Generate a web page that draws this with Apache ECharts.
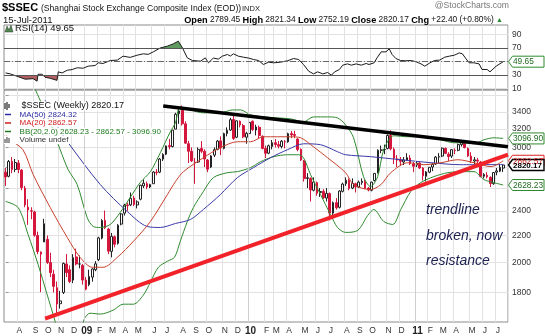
<!DOCTYPE html>
<html><head><meta charset="utf-8">
<script src="https://cdn.jsdelivr.net/npm/echarts@6/dist/echarts.min.js"></script>
<style>html,body{margin:0;padding:0;background:#fff;}#chart{width:545px;height:336px;}</style>
</head><body><div id="chart"></div>
<script>
// ---------- categories: weekly bars (Friday dates); holiday weeks have no bar ----------
const holidayWeeks = ['2008-10-03', '2009-01-30', '2010-02-19'];
const weeks = [];
for (let t = Date.UTC(2008, 6, 4); t <= Date.UTC(2011, 6, 15); t += 7 * 86400000) {
  const s = new Date(t).toISOString().slice(0, 10);
  if (!holidayWeeks.includes(s)) weeks.push(s);
}
const categories = weeks.concat(['']);

// ---------- weekly OHLC ----------
const opens = [2750,2710,2856,2776,2840,2770,2600,2430,2400,2390,2200,2060,2150,2170,2000,1920,1830,1730,1800,1990,1950,1880,2040,1990,1980,1880,
1850,1900,1950,2020,2180,2320,2250,2080,2190,2140,2290,2380,2450,2450,2510,2450,2500,2620,2640,2610,2640,2750,2750,2880,2930,3020,3010,3200,3380,3420,
3260,3040,2960,2850,2850,2990,2960,2870,2800,2920,2980,3070,2990,3150,3190,3310,3110,3290,3240,3110,3150,3290,3190,3220,3120,2990,2940,3010,3050,3030,
3010,3060,3060,3150,3140,3090,2980,2860,2690,2690,2580,2650,2560,2570,2510,2550,2380,2470,2430,2570,2640,2670,2600,2640,2610,2650,2660,2600,2580,2670,
2740,2970,2980,2990,3130,2980,2880,2870,2850,2870,2890,2830,2820,2840,2790,2710,2750,2800,2830,2900,2910,2990,2930,2910,2970,2970,3030,3050,2990,2910,
2860,2870,2850,2710,2720,2700,2640,2750,2760,2789.45];
const highs = [2790,2870,2900,2880,2870,2780,2620,2500,2430,2400,2230,2080,2333,2200,2070,1950,1870,1810,2000,2060,1980,2060,2100,2050,1990,1900,
1950,1960,2010,2190,2330,2402,2260,2220,2200,2290,2380,2460,2470,2560,2530,2490,2630,2680,2660,2640,2760,2780,2890,2940,3020,3090,3190,3390,3460,3478,
3290,3070,3000,2890,3000,3068,2980,2880,2920,3000,3080,3120,3160,3220,3330,3361,3300,3300,3260,3170,3280,3300,3250,3240,3130,3020,3030,3080,3090,3070,
3080,3080,3160,3180,3181,3100,2990,2870,2740,2700,2700,2660,2600,2590,2600,2560,2480,2510,2580,2650,2700,2690,2690,2650,2670,2690,2680,2610,2660,2740,
2980,3020,3030,3140,3187,3000,2920,2900,2900,2940,2920,2850,2860,2850,2800,2760,2800,2840,2910,2940,3000,3000,2950,2980,2990,3040,3060,3067,3000,2950,
2900,2890,2860,2740,2750,2710,2750,2790,2830,2821.34];
const lows = [2620,2700,2740,2750,2740,2580,2430,2284,2330,2190,2060,1802,2150,1990,1900,1800,1664,1700,1790,1900,1860,1860,1980,1960,1850,1814,
1840,1870,1940,2010,2170,2250,2060,2037,2110,2130,2280,2360,2400,2440,2440,2420,2490,2600,2590,2600,2640,2720,2740,2860,2920,2980,3000,3200,3260,3240,
3040,2840,2850,2639,2840,2940,2800,2750,2790,2900,2970,2920,2980,3120,3180,3080,3100,3220,3100,3040,3150,3180,3130,3100,2980,2890,2930,2980,3000,2990,
2990,2990,3050,3100,3100,2960,2860,2660,2600,2480,2570,2530,2520,2500,2480,2320,2360,2410,2420,2560,2620,2580,2590,2560,2600,2630,2590,2570,2570,2660,
2740,2940,2930,2980,2970,2830,2800,2810,2820,2860,2820,2750,2800,2780,2670,2661,2740,2760,2820,2840,2900,2930,2860,2890,2930,2960,3010,2990,2900,2840,
2830,2820,2700,2690,2690,2610,2630,2720,2750,2752.19];
const closes = [2704,2856,2776,2845,2776,2605,2450,2407,2397,2202,2079,2075,2293,2000,1930,1839,1728,1747,1994,1930,1871,2035,1990,1990,1880,1821,
1904,1955,1991,2181,2320,2261,2082,2193,2133,2281,2374,2449,2444,2508,2453,2477,2626,2645,2610,2632,2751,2745,2880,2927,3016,3008,3189,3372,3412,3260,
3046,2960,2861,2844,2980,2960,2880,2779,2911,2976,3068,2995,3150,3187,3308,3096,3295,3247,3114,3153,3277,3196,3224,3128,2989,2939,3018,3051,3031,3014,
3067,3059,3149,3135,3130,2979,2870,2688,2697,2583,2656,2553,2569,2514,2552,2382,2470,2425,2573,2637,2672,2597,2642,2611,2655,2663,2598,2582,2655,2738,
2971,2975,2978,3129,2985,2888,2871,2857,2871,2894,2835,2808,2839,2791,2715,2752,2798,2827,2900,2905,2992,2938,2906,2977,2967,3030,3050,2999,2911,2863,
2872,2859,2709,2728,2705,2642,2746,2762,2797,2820.17];

// ---------- overlays: [bar index, value] ----------
const ma50 = [[12.3,3547],[16.4,3215],[19.5,3050],[29.5,2632],[37.9,2394],[44.1,2271],[48.2,2263],[52.9,2295],[57.6,2328],[61.6,2411],[66.9,2541],
[72.2,2697],[77.2,2794],[82.5,2893],[87.8,2976],[92.8,3039],[98.1,3029],[103.4,2955],[105.9,2924],[113.7,2904],[123.1,2873],[132.5,2843],[141.8,2823],[155,2824.32]];
const ma20 = [[0,3137],[1.4,3082],[5.4,2976],[8.6,2726],[13.9,2428],[19.2,2185],[23.2,2037],[27,1967],[30.4,1967],[34.8,2037],[39.8,2155],[45.1,2311],
[50.4,2541],[52.9,2660],[55.4,2755],[61.6,2893],[66.9,2997],[72.2,3061],[76.3,3061],[80.3,3115],[84.7,3115],[88.8,3115],[91.9,3104],[95.9,3007],
[100.3,2893],[105.9,2745],[108.4,2632],[113.7,2586],[116.9,2632],[120,2745],[125.3,2843],[130.3,2823],[135.6,2843],[140.9,2873],[145.9,2843],[151.2,2804],[155,2862.57]];
const bbUpper = [[8,3800],[10.7,3547],[14.5,3215],[17,2976],[19.5,2774],[22.3,2632],[25.4,2344],[27.3,2271],[29.5,2263],[32.6,2287],[35.7,2386],[38.8,2515],
[41.9,2650],[45.1,2755],[48.2,2945],[51.3,3170],[52.9,3272],[54.4,3461],[57.6,3424],[61.6,3389],[66.9,3389],[70.7,3424],[73.2,3424],[76.3,3365],[80.3,3341],
[84.7,3329],[88.8,3318],[92.8,3283],[95.9,3341],[100.3,3341],[103.4,3329],[105.9,3249],[108.4,3104],[111.5,2707],[113.7,2613],[115.9,2707],[117.8,2976],
[120.9,3126],[125.3,3115],[130.3,3115],[135.6,3082],[139.6,3050],[142.8,3050],[145.9,3039],[149,3082],[152.1,3104],[155,3096.90]];
const bbLower = [[0,2480],[3.9,2428],[7,2208],[10.1,1988],[12.9,1789],[15.4,1627],[16.4,1554],[23.2,1554],[24.5,1639],[26.3,1673],[29.5,1668],[33.5,1691],
[36.6,1727],[39.8,1727],[42.9,1783],[45.1,1866],[47.6,1967],[50.4,2009],[52.6,2037],[54.4,2155],[56.6,2311],[58.5,2428],[61.6,2568],[64.7,2697],[69.1,2745],
[72.2,2755],[76.3,2794],[79.4,2853],[83.5,2904],[87.8,2924],[91.3,2924],[92.8,2893],[95,2726],[98.1,2541],[101.2,2369],[103.4,2263],[105.9,2224],[109.7,2240],
[112.8,2361],[114.7,2411],[117.8,2311],[120.6,2287],[123.1,2411],[126.2,2568],[129.3,2650],[133.4,2707],[137.8,2745],[141.8,2755],[145.9,2755],[149,2679],
[152.1,2650],[155,2628.23]];
const rsi14 = [[0,33],[1.4,31.6],[3.6,28],[6.1,23.7],[8.6,24.5],[9.8,20.8],[10.1,31],[11.4,31],[12.3,26.6],[13.9,25],[16,22],[16.4,34.6],[17.6,33],[19.2,37],
[20.7,38],[22.3,40.6],[24.2,40],[25.7,43],[27.9,44],[28.8,48],[30.4,47],[32.6,51.4],[34.8,52],[36.6,57.8],[38.8,56],[41,59.3],[42.9,61.3],[44.4,60.5],[46,64.2],
[48.2,70],[50.4,72.7],[52.2,76],[53.8,80],[55.1,70],[56.6,55.3],[58.2,51.4],[60.7,50.4],[62.2,55.3],[63.2,48],[64.7,55],[66.3,53.5],[67.5,57.8],[69.1,60.3],
[70,58],[71,61.3],[72.5,57.8],[74.1,56.3],[75.7,55],[77.2,52.9],[78.8,51.4],[80.3,45.5],[81.9,48.9],[83.5,48],[85.6,48.9],[87.8,51],[89.7,54.3],[91.3,52.9],
[92.8,45.5],[94.4,35.6],[95.9,31.6],[97.2,34.6],[98.8,31.6],[100.3,33.6],[101.5,29.7],[102.5,34.6],[104,38.1],[105,44.5],[106.5,46.4],[107.7,44.5],[109.2,46.4],
[110.8,44.5],[112.3,47],[113.2,45.5],[114.8,48],[115.7,55.3],[117,64.2],[118.5,64.2],[119.5,68.7],[120.4,60.3],[121.6,54.3],[123,51.4],[124.6,51],[126.4,51.4],
[127.9,49.4],[129.4,46.4],[130.6,43],[132.2,48],[133.6,51.4],[135.2,52],[136.8,56.3],[138.2,57.8],[139.8,59.3],[141.3,62.7],[142.3,61.3],[143.2,55.3],[144.4,48],
[145.9,48],[147.5,46.4],[148.4,38.1],[150,38.1],[150.9,34.6],[152.8,43],[155,49.65]];
const trendResistance = [[49.1,3473],[156.5,3007]];
const trendSupport = [[12.3,1641],[156.5,2924]];

// ---------- axis ticks ----------
const priceLabels = [1800,2000,2200,2400,3000,3200,3400];
const priceGrid = [1800,2000,2200,2400,2600,2800,3000,3200,3400,3600];
const rsiLabels = [10,30,70,90];
const rsiGrid = [10,50,90];
const monthLetters = ['J','F','M','A','M','J','J','A','S','O','N','D'];
const last = {close:2820.17, ma50:2824.32, ma20:2862.57, bbLow:2628.23, bbUp:3096.90, rsi:49.65};

// ---------- build ----------
const FONT = "'Liberation Sans', Arial, sans-serif";
const L = Math.log;
const logPts = a => a.map(p => [p[0], L(p[1])]);
const monthStart = new Set();
for (let i = 1; i < weeks.length; i++) if (weeks[i].slice(5,7) !== weeks[i-1].slice(5,7)) monthStart.add(i);
const yearStart = [...monthStart].filter(i => weeks[i].slice(5,7) === '01');
const isMonth = (idx) => monthStart.has(idx);

const candleData = opens.map((o, i) => {
  const c = closes[i], prev = i ? closes[i-1] : o;
  const col = c >= prev ? '#222222' : '#d5173d';
  const fill = c < o ? col : '#ffffff';
  return {value: [L(o), L(c), L(lows[i]), L(highs[i])],
          itemStyle: {color: fill, color0: fill, borderColor: col, borderColor0: col}};
});

const N = categories.length;
const chart = echarts.init(document.getElementById('chart'), null, {renderer: 'canvas'});
const gridL = 4, gridW = 504;
const option = {
  animation: false,
  backgroundColor: '#ffffff',
  grid: [
    {left: gridL, width: gridW, top: 25, height: 64.8, show: true, borderColor: '#8c8c8c', borderWidth: 1},
    {left: gridL, width: gridW, top: 90, height: 233, show: true, borderColor: '#8c8c8c', borderWidth: 1}
  ],
  xAxis: [
    {type: 'category', gridIndex: 0, data: categories, boundaryGap: true,
     axisLine: {show: false}, axisTick: {show: false}, axisLabel: {show: false},
     splitLine: {show: true, interval: isMonth, lineStyle: {color: '#e2e2e2', width: 1}}},
    {type: 'value', gridIndex: 0, min: -0.5, max: N - 0.5, show: false},
    {type: 'category', gridIndex: 1, data: categories, boundaryGap: true,
     axisLine: {show: false}, axisTick: {show: false},
     axisLabel: {show: true, interval: isMonth, margin: 4, fontSize: 8.5, fontFamily: FONT, color: '#333',
       padding: [0, 0, 0, 2],
       formatter: (v) => { if (!v) return ''; const m = +v.slice(5,7); return m === 1 ? '{b|' + v.slice(2,4) + '}' : monthLetters[m-1]; },
       rich: {b: {fontWeight: 'bold', fontSize: 10, fontFamily: FONT, color: '#222'}}},
     splitLine: {show: true, interval: isMonth, lineStyle: {color: '#e2e2e2', width: 1}}},
    {type: 'value', gridIndex: 1, min: -0.5, max: N - 0.5, show: false}
  ],
  yAxis: [
    {type: 'value', gridIndex: 0, position: 'right', min: 8, max: 104,
     axisLine: {show: false},
     axisTick: {show: false, customValues: rsiGrid},
     axisLabel: {customValues: rsiLabels, fontSize: 8.5, fontFamily: FONT, color: '#333', margin: 4},
     splitLine: {show: true, lineStyle: {color: '#e2e2e2'}}},
    {type: 'value', gridIndex: 1, position: 'right', min: L(1622), max: L(3673),
     axisLine: {show: false},
     axisTick: {show: true, length: 3, customValues: priceGrid.map(L), lineStyle: {color: '#999'}},
     axisLabel: {customValues: priceLabels.map(L), formatter: (v) => String(Math.round(Math.exp(v))),
       fontSize: 8.5, fontFamily: FONT, color: '#333', margin: 4},
     splitLine: {show: true, lineStyle: {color: '#e2e2e2'}}}
  ],
  series: [
    // RSI fills
    {type: 'line', xAxisIndex: 1, yAxisIndex: 0, data: rsi14.map(p => [p[0], Math.max(p[1], 70)]),
     symbol: 'none', lineStyle: {width: 0}, areaStyle: {origin: 70, color: '#5f9a60', opacity: 1}, z: 2, silent: true},
    {type: 'line', xAxisIndex: 1, yAxisIndex: 0, data: rsi14.map(p => [p[0], Math.min(p[1], 30)]),
     symbol: 'none', lineStyle: {width: 0}, areaStyle: {origin: 30, color: '#b06060', opacity: 1}, z: 2, silent: true},
    {type: 'line', xAxisIndex: 1, yAxisIndex: 0, data: rsi14, symbol: 'none',
     lineStyle: {color: '#1a1a1a', width: 1}, z: 4, silent: true,
     markLine: {silent: true, symbol: 'none', label: {show: false},
       data: [
         {yAxis: 70, lineStyle: {color: '#555', width: 1, type: 'solid'}},
         {yAxis: 30, lineStyle: {color: '#555', width: 1, type: 'solid'}},
         {yAxis: 50, lineStyle: {color: '#666', width: 1, type: [6, 2, 1, 2]}}
       ]}},
    // candles
    {type: 'candlestick', xAxisIndex: 2, yAxisIndex: 1, data: candleData, barWidth: 2.2,
     itemStyle: {borderWidth: 1}, z: 3, silent: true},
    // overlays
    {type: 'line', xAxisIndex: 3, yAxisIndex: 1, data: logPts(bbUpper), symbol: 'none', smooth: 0.3,
     lineStyle: {color: '#2f8a2f', width: 1}, z: 4, silent: true},
    {type: 'line', xAxisIndex: 3, yAxisIndex: 1, data: logPts(bbLower), symbol: 'none', smooth: 0.3,
     lineStyle: {color: '#2f8a2f', width: 1}, z: 4, silent: true},
    {type: 'line', xAxisIndex: 3, yAxisIndex: 1, data: logPts(ma50), symbol: 'none', smooth: 0.3,
     lineStyle: {color: '#3a3aa8', width: 1}, z: 4, silent: true,
     markLine: {silent: true, symbol: 'none', label: {show: false}, lineStyle: {color: '#cfcfcf', width: 1, type: 'solid'},
       data: yearStart.map(i => ({xAxis: i - 0.5}))}},
    {type: 'line', xAxisIndex: 3, yAxisIndex: 1, data: logPts(ma20), symbol: 'none', smooth: 0.3,
     lineStyle: {color: '#c8402c', width: 1}, z: 4, silent: true},
    {type: 'line', xAxisIndex: 3, yAxisIndex: 1, data: logPts(trendResistance), symbol: 'none',
     lineStyle: {color: '#000', width: 3.5}, z: 6, silent: true},
    {type: 'line', xAxisIndex: 3, yAxisIndex: 1, data: logPts(trendSupport), symbol: 'none',
     lineStyle: {color: '#f2222a', width: 4}, z: 6, silent: true}
  ]
};
chart.setOption(option);

// ---------- text, legend, value tags ----------
const g = [];
const txt = (x, y, text, font, fill, extra) => g.push(Object.assign({type: 'text', z: 100, silent: true,
  style: Object.assign({x, y, text, font, fill, textVerticalAlign: 'middle'}, extra || {})}));
txt(2, 8, '$SSEC', 'bold 11px ' + FONT, '#000');
txt(41, 8.5, '(Shanghai Stock Exchange Composite Index (EOD))', '8.6px ' + FONT, '#111');
txt(242, 8.5, 'INDX', '7.5px ' + FONT, '#222');
txt(509, 6, '@StockCharts.com', '8.6px ' + FONT, '#777', {textAlign: 'right'});
txt(3, 20, '15-Jul-2011', '9.5px ' + FONT, '#111');
g.push({type: 'text', z: 100, silent: true, style: {x: 503, y: 20, textAlign: 'right', textVerticalAlign: 'middle',
  text: '{b|Open} 2789.45 {b|High} 2821.34 {b|Low} 2752.19 {b|Close} 2820.17 {b|Chg} +22.40 (+0.80%) {t|▲}',
  font: '8.4px ' + FONT, fill: '#111',
  rich: {b: {fontWeight: 'bold', fontSize: 9.2, fontFamily: FONT, fill: '#000'}, t: {fontSize: 7, fill: '#2e8b2e', fontFamily: FONT}}}});

// RSI legend
g.push({type: 'polygon', z: 100, silent: true, shape: {points: [[5,32],[7,26],[9,30],[11,25],[13,32]]}, style: {fill: '#4e8a4e', stroke: '#333', lineWidth: 0.5}});
txt(15, 28.5, 'RSI(14) 49.65', '9.5px ' + FONT, '#111');

// price legend (white backing hides the overlays beneath it)
const legendRows = [
  ['$SSEC (Weekly) 2820.17', '#111', '9px'],
  ['MA(50) 2824.32', '#2b2ba0', '8px'],
  ['MA(20) 2862.57', '#d02020', '8px'],
  ['BB(20,2.0) 2628.23 - 2862.57 - 3096.90', '#1f7a1f', '8px'],
  ['Volume undef', '#333', '8px']
];
const rowY = [106, 114.5, 123, 131.5, 140];
legendRows.forEach((r, k) => {
  txt(4, rowY[k], '       ' + r[0], r[2] + ' ' + FONT, r[1], {backgroundColor: '#fff', padding: [0, 2, 0, 0]});
});
[['#2b2ba0',1],['#d02020',2],['#1f7a1f',3]].forEach(([c,k]) => g.push({type: 'line', z: 101, silent: true,
  shape: {x1: 5, y1: rowY[k], x2: 11, y2: rowY[k]}, style: {stroke: c, lineWidth: 1.5}}));
[[5,103,109],[7,102,110],[9,104,108]].forEach(([x,a,b]) => g.push({type: 'line', z: 101, silent: true,
  shape: {x1: x, y1: a, x2: x, y2: b}, style: {stroke: '#222', lineWidth: 1.2}}));
[[5,139,143],[7,137,143],[9,138,143]].forEach(([x,a,b]) => g.push({type: 'line', z: 101, silent: true,
  shape: {x1: x, y1: a, x2: x, y2: b}, style: {stroke: '#555', lineWidth: 1.2}}));

// annotation
txt(426, 210, 'trendline', 'italic 14px ' + FONT, '#1b2050');
txt(426, 236, 'broken, now', 'italic 14px ' + FONT, '#1b2050');
txt(426, 261, 'resistance', 'italic 14px ' + FONT, '#1b2050');

// value tags on the right axis
const tag = (y, text, stroke, color, bold) => {
  const x0 = 508.5, w = 35.5, h = 11;
  g.push({type: 'polygon', z: 110, silent: true,
    shape: {points: [[x0, y], [x0 + 4, y - h/2], [x0 + w, y - h/2], [x0 + w, y + h/2], [x0 + 4, y + h/2]]},
    style: {fill: '#fff', stroke, lineWidth: bold ? 1.4 : 1}});
  g.push({type: 'text', z: 111, silent: true, style: {x: x0 + 4.5, y: y + 0.5, text, textVerticalAlign: 'middle',
    font: (bold ? 'bold 8px ' : '8.3px ') + FONT, fill: color}});
};
const py = v => chart.convertToPixel({yAxisIndex: 1}, L(v));
tag(py(last.bbUp), '3096.90', '#2f8a2f', '#1f6a1f');
tag(py(last.ma20), '2862.57', '#e02020', '#d02020');
tag(py(last.close), '2820.17', '#000', '#000', true);
tag(py(last.bbLow), '2628.23', '#2f8a2f', '#1f6a1f');
tag(chart.convertToPixel({yAxisIndex: 0}, last.rsi), '49.65', '#2f8a2f', '#1f6a1f');

chart.setOption({graphic: g});
</script>
</body></html>
